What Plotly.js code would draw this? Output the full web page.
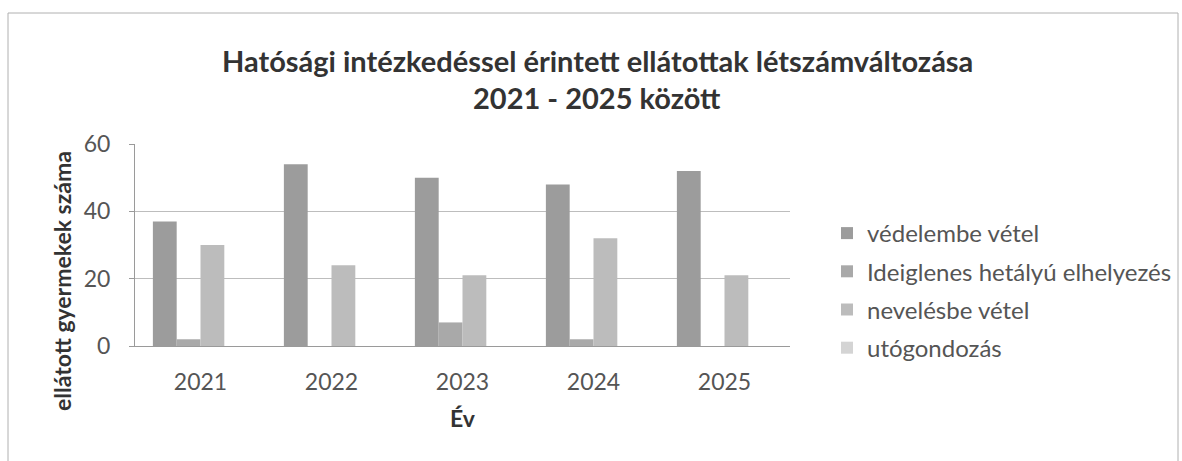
<!DOCTYPE html>
<html>
<head>
<meta charset="utf-8">
<script src="https://cdn.plot.ly/plotly-3.0.1.min.js"></script>
<style>
html,body{margin:0;padding:0;background:#fff;}
#chart{width:1182px;height:461px;}
</style>
</head>
<body>
<div id="chart"></div>
<script>
const years = ['2021', '2022', '2023', '2024', '2025'];
const seriesNames = ['védelembe vétel', 'Ideiglenes hetályú elhelyezés', 'nevelésbe vétel', 'utógondozás'];
const vedelembe = [37, 54, 50, 48, 52];
const ideiglenes = [2, 0, 7, 2, 0];
const nevelesbe = [30, 24, 21, 32, 21];
const utogondozas = [0, 0, 0, 0, 0];
const colors = ['#9c9c9c', '#a9a9a9', '#bcbcbc', '#d4d4d4'];

const W = 1182, H = 461;
const L = 135, R = 392, T = 144, B = 115;
const pw = W - L - R, ph = H - T - B;
const px = x => (x - L) / pw;
const py = y => (H - B - y) / ph;

const data = [vedelembe, ideiglenes, nevelesbe, utogondozas].map((vals, i) => ({
  type: 'bar',
  name: seriesNames[i],
  legendgroup: 'g' + i,
  x: years,
  y: vals,
  marker: {color: colors[i]},
  hoverinfo: 'x+y+name'
}));

const font = 'Lato, "Open Sans", sans-serif';

const layout = {
  width: W, height: H,
  margin: {l: L, r: R, t: T, b: B, pad: 0, autoexpand: false},
  paper_bgcolor: '#ffffff',
  plot_bgcolor: '#ffffff',
  font: {family: font, color: '#555', size: 23},
  barmode: 'group',
  bargap: 0.273,
  bargroupgap: 0,
  showlegend: true,
  legend: {
    x: px(827), y: py(211), xanchor: 'left', yanchor: 'top',
    font: {family: font, size: 24, color: '#555'},
    itemwidth: 30, tracegroupgap: 4, traceorder: 'grouped',
    bgcolor: 'rgba(0,0,0,0)'
  },
  xaxis: {
    type: 'category',
    showline: true, linecolor: '#9a9a9a', linewidth: 1,
    ticks: '', showgrid: false, zeroline: false,
    tickfont: {family: font, size: 23, color: '#555'},
    ticklabelstandoff: 15
  },
  yaxis: {
    range: [0, 60], dtick: 20, tick0: 0,
    showline: true, linecolor: '#9a9a9a', linewidth: 1,
    ticks: 'outside', ticklen: 5, tickcolor: '#9a9a9a',
    showgrid: true, gridcolor: '#bdbdbd', gridwidth: 1,
    zeroline: false,
    tickfont: {family: font, size: 23, color: '#555'},
    ticklabelstandoff: 14
  },
  annotations: [
    {text: '<b>Hatósági intézkedéssel érintett ellátottak létszámváltozása</b>', xref: 'paper', yref: 'paper',
     x: px(597), y: py(60), xanchor: 'center', yanchor: 'middle', showarrow: false,
     font: {family: font, size: 29, color: '#333'}},
    {text: '<b>2021 - 2025 között</b>', xref: 'paper', yref: 'paper',
     x: px(597), y: py(97), xanchor: 'center', yanchor: 'middle', showarrow: false,
     font: {family: font, size: 29, color: '#333'}},
    {text: '<b>ellátott gyermekek száma</b>', xref: 'paper', yref: 'paper',
     x: px(62), y: py(281), xanchor: 'center', yanchor: 'middle', showarrow: false, textangle: -90,
     font: {family: font, size: 23, color: '#333'}},
    {text: '<b>Év</b>', xref: 'paper', yref: 'paper',
     x: px(463), y: py(418), xanchor: 'center', yanchor: 'middle', showarrow: false,
     font: {family: font, size: 23, color: '#333'}}
  ],
  shapes: [
    {type: 'rect', xref: 'paper', yref: 'paper', x0: px(8), x1: px(1178), y0: py(470), y1: py(13),
     line: {color: '#b0b0b0', width: 1}, fillcolor: 'rgba(0,0,0,0)', layer: 'below'}
  ]
};

Plotly.newPlot('chart', data, layout, {displayModeBar: false, staticPlot: true});
</script>
</body>
</html>
